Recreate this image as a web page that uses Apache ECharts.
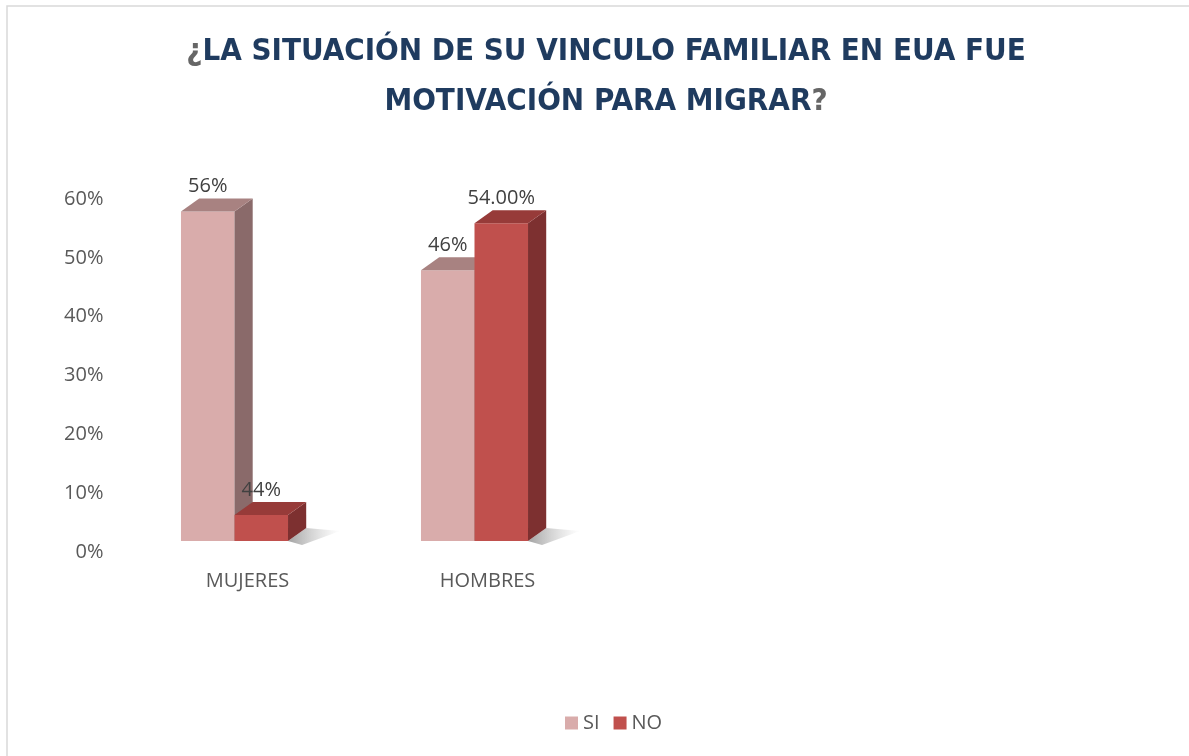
<!DOCTYPE html>
<html>
<head>
<meta charset="utf-8">
<script src="https://cdn.jsdelivr.net/npm/echarts@6/dist/echarts.min.js"></script>
<style>
  html, body { margin: 0; padding: 0; background: #fff; }
  #chart { width: 1189px; height: 756px; }
</style>
</head>
<body>
<div id="chart"></div>
<script>
const categories = ['MUJERES', 'HOMBRES'];
const siValues = [0.56, 0.46];
const noValues = [0.044, 0.54];
const siLabels = ['56%', '46%'];
const noLabels = ['44%', '54.00%'];
const yTicks = [0, 0.1, 0.2, 0.3, 0.4, 0.5, 0.6];

const chart = echarts.init(document.getElementById('chart'), null, { renderer: 'canvas' });

const SI = { front: '#D9ACAB', side: '#8A6A6A', top: '#A88281' };
const NO = { front: '#C0504D', side: '#7D3030', top: '#973B39' };
const textGray = '#595959';
const FONT = '"Open Sans", sans-serif';

// 3D box drawn from library coords; slot 0 = left bar, 1 = right bar
function box(slot, pal, labels) {
  return function (params, api) {
    const i = api.value(0);
    const v = api.value(1);
    const base = api.coord([i, 0]);
    const top = api.coord([i, v]);
    const band = api.size([1, 0])[0];
    const w = band * 0.223;
    const dx = w * 0.34, dy = -w * 0.245;
    const x0 = base[0] + (slot === 0 ? -w : 0), x1 = x0 + w;
    const yb = base[1], yt = top[1];
    const kids = [];
    if (slot === 1) {
      kids.push({ type: 'polygon', silent: true,
        shape: { points: [[x1, yb], [x1 + dx, yb + dy], [x1 + dx + 34, yb + dy + 3], [x1 + 14, yb + 4]] },
        style: { fill: { type: 'linear', x: 0, y: 0, x2: 1, y2: 0,
          colorStops: [{ offset: 0, color: 'rgba(70,70,70,0.5)' }, { offset: 1, color: 'rgba(140,140,140,0)' }] } } });
    }
    kids.push(
      { type: 'rect', shape: { x: x0, y: yt, width: w, height: yb - yt }, style: { fill: pal.front } },
      { type: 'polygon', shape: { points: [[x1, yt], [x1 + dx, yt + dy], [x1 + dx, yb + dy], [x1, yb]] },
        style: { fill: pal.side } },
      { type: 'polygon', shape: { points: [[x0, yt], [x0 + dx, yt + dy], [x1 + dx, yt + dy], [x1, yt]] },
        style: { fill: pal.top } },
      { type: 'text', silent: true,
        style: { text: labels[params.dataIndex], x: x0 + w / 2, y: yt - 25,
          align: 'center', verticalAlign: 'middle',
          font: '20px ' + FONT, fill: '#404040' } }
    );
    return { type: 'group', children: kids };
  };
}

chart.setOption({
  animation: false,
  title: {
    left: 606, top: 27, padding: 0, textAlign: 'center',
    text: '{q|¿}{t|LA SITUACIÓN DE SU VINCULO FAMILIAR EN EUA FUE}\n{t|MOTIVACIÓN PARA MIGRAR}{q|?}',
    textStyle: {
      lineHeight: 50,
      rich: {
        t: { fontFamily: '"Liberation Sans Narrow", "DejaVu Sans Condensed", sans-serif', fontWeight: 'bold', fontSize: 31, color: '#1F3B5F', lineHeight: 50 },
        q: { fontFamily: '"Liberation Sans Narrow", "DejaVu Sans Condensed", sans-serif', fontWeight: 'bold', fontSize: 31, color: '#666666', lineHeight: 50 },
      },
    },
  },
  legend: {
    left: 560, top: 708, itemWidth: 13, itemHeight: 13, itemGap: 14, icon: 'rect',
    textStyle: { color: textGray, fontSize: 20, fontFamily: FONT },
    data: ['SI', 'NO'],
  },
  grid: { left: 114.5, width: 480, top: 188, height: 353 },
  xAxis: {
    type: 'category', data: categories,
    axisLine: { show: false }, axisTick: { show: false },
    axisLabel: { color: textGray, fontSize: 20, fontFamily: FONT,
      margin: 30, padding: [0, 0, 0, 26] },
  },
  yAxis: {
    type: 'value', min: yTicks[0], max: yTicks[yTicks.length - 1], interval: 0.1,
    axisLine: { show: false }, axisTick: { show: false }, splitLine: { show: false },
    axisLabel: { color: textGray, margin: 11,
      formatter: (v) => '{a|' + Math.round(v * 100) + '%}',
      rich: { a: { color: textGray, fontSize: 20, fontFamily: FONT, padding: [22, 0, 0, 0] } } },
  },
  series: [
    { name: 'SI', type: 'custom', color: SI.front, renderItem: box(0, SI, siLabels),
      encode: { x: 0, y: 1 }, data: siValues.map((v, i) => [i, v]) },
    { name: 'NO', type: 'custom', color: NO.front, renderItem: box(1, NO, noLabels),
      encode: { x: 0, y: 1 }, data: noValues.map((v, i) => [i, v]) },
  ],
  graphic: [
    { type: 'rect', silent: true, z: -1,
      shape: { x: 7, y: 6, width: 1400, height: 1000 },
      style: { fill: 'none', stroke: '#D9D9D9', lineWidth: 1.5 } },
  ],
});
</script>
</body>
</html>
